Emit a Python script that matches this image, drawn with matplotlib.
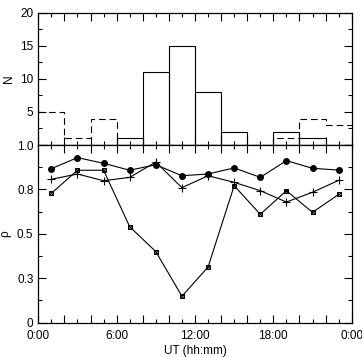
import numpy as np
import matplotlib
matplotlib.use('Agg')
import matplotlib.pyplot as plt
from matplotlib.ticker import MultipleLocator, FuncFormatter

plt.rcParams['font.family'] = ['Liberation Sans', 'DejaVu Sans']
plt.rcParams['font.size'] = 8.5

# == data ==
bin_edges = np.arange(0, 25, 2)  # UT hours, 2 h bins
n_solid = [0, 0, 0, 1, 11, 15, 8, 2, 0, 2, 1, 0]
n_dashed = [5, 1, 4, 0, 0, 0, 0, 0, 0, 1, 4, 3]

ut = np.arange(1, 24, 2)  # bin centres
rho_dot = [0.867, 0.929, 0.897, 0.858, 0.889, 0.827, 0.837, 0.871, 0.818, 0.912, 0.869, 0.859]
rho_plus = [0.807, 0.837, 0.799, 0.818, 0.904, 0.760, 0.827, 0.790, 0.743, 0.679, 0.734, 0.801]
rho_box = [0.728, 0.858, 0.858, 0.540, 0.400, 0.149, 0.313, 0.771, 0.610, 0.743, 0.621, 0.722]

rho_ticks = [0, 0.25, 0.5, 0.75, 1.0]
rho_labels = ['0', '0.3', '0.5', '0.8', '1.0']
ut_labels = {0: '0:00', 6: '6:00', 12: '12:00', 18: '18:00', 24: '0:00'}

fig = plt.figure(figsize=(3.62, 3.57), dpi=100)
L, R = 0.1058, 0.9715
ax1 = fig.add_axes([L, 0.5938, R - L, 0.9644 - 0.5938])
ax2 = fig.add_axes([L, 0.0961, R - L, 0.5938 - 0.0961])

lw = 0.8
# top: histogram
widths = np.diff(bin_edges)
ax1.bar(bin_edges[:-1], n_solid, width=widths, align='edge', fill=False,
        edgecolor='black', linewidth=lw)
ax1.stairs(n_dashed, bin_edges, baseline=None, color='black', linewidth=lw,
           linestyle=(0, (6, 3.5)))
ax1.set_ylim(0, 20)
ax1.yaxis.set_major_locator(MultipleLocator(5))
ax1.yaxis.set_minor_locator(MultipleLocator(2.5))
ax1.yaxis.set_major_formatter(FuncFormatter(lambda v, p: '' if v == 0 else '%d' % v))
ax1.set_ylabel('N')
ax1.yaxis.set_label_coords(-0.075, 0.5)
ax1.set_xticklabels([])

# bottom: correlation
ax2.plot(ut, rho_dot, color='black', linewidth=lw, marker='o', markersize=4)
ax2.plot(ut, rho_plus, color='black', linewidth=lw, marker='+', markersize=6,
         markeredgewidth=0.8)
ax2.plot(ut, rho_box, color='black', linewidth=lw, marker='s', markersize=3.5,
         markerfacecolor='none', markeredgewidth=0.7)
ax2.plot(ut, rho_box, linestyle='none', color='black', marker='x', markersize=2.5,
         markeredgewidth=0.7)
ax2.set_ylim(0, 1)
ax2.set_yticks(rho_ticks)
ax2.set_yticklabels(rho_labels)
ax2.yaxis.set_minor_locator(MultipleLocator(0.125))
ax2.set_ylabel('ρ')
ax2.yaxis.set_label_coords(-0.085, 0.5)
ax2.set_xlabel('UT (hh:mm)', labelpad=2)
ax2.xaxis.set_major_formatter(FuncFormatter(lambda v, p: ut_labels.get(int(round(v)), '')))

for ax in (ax1, ax2):
    ax.set_xlim(0, 24)
    ax.xaxis.set_major_locator(MultipleLocator(2))
    ax.xaxis.set_minor_locator(MultipleLocator(1))
    ax.tick_params(which='both', direction='in', top=True, right=True, width=0.8)
    ax.tick_params(which='major', length=6)
    ax.tick_params(which='minor', length=3)
    for s in ax.spines.values():
        s.set_linewidth(0.9)
ax2.tick_params(axis='x', which='major', pad=5.5)

fig.savefig('out.png', dpi=100)
